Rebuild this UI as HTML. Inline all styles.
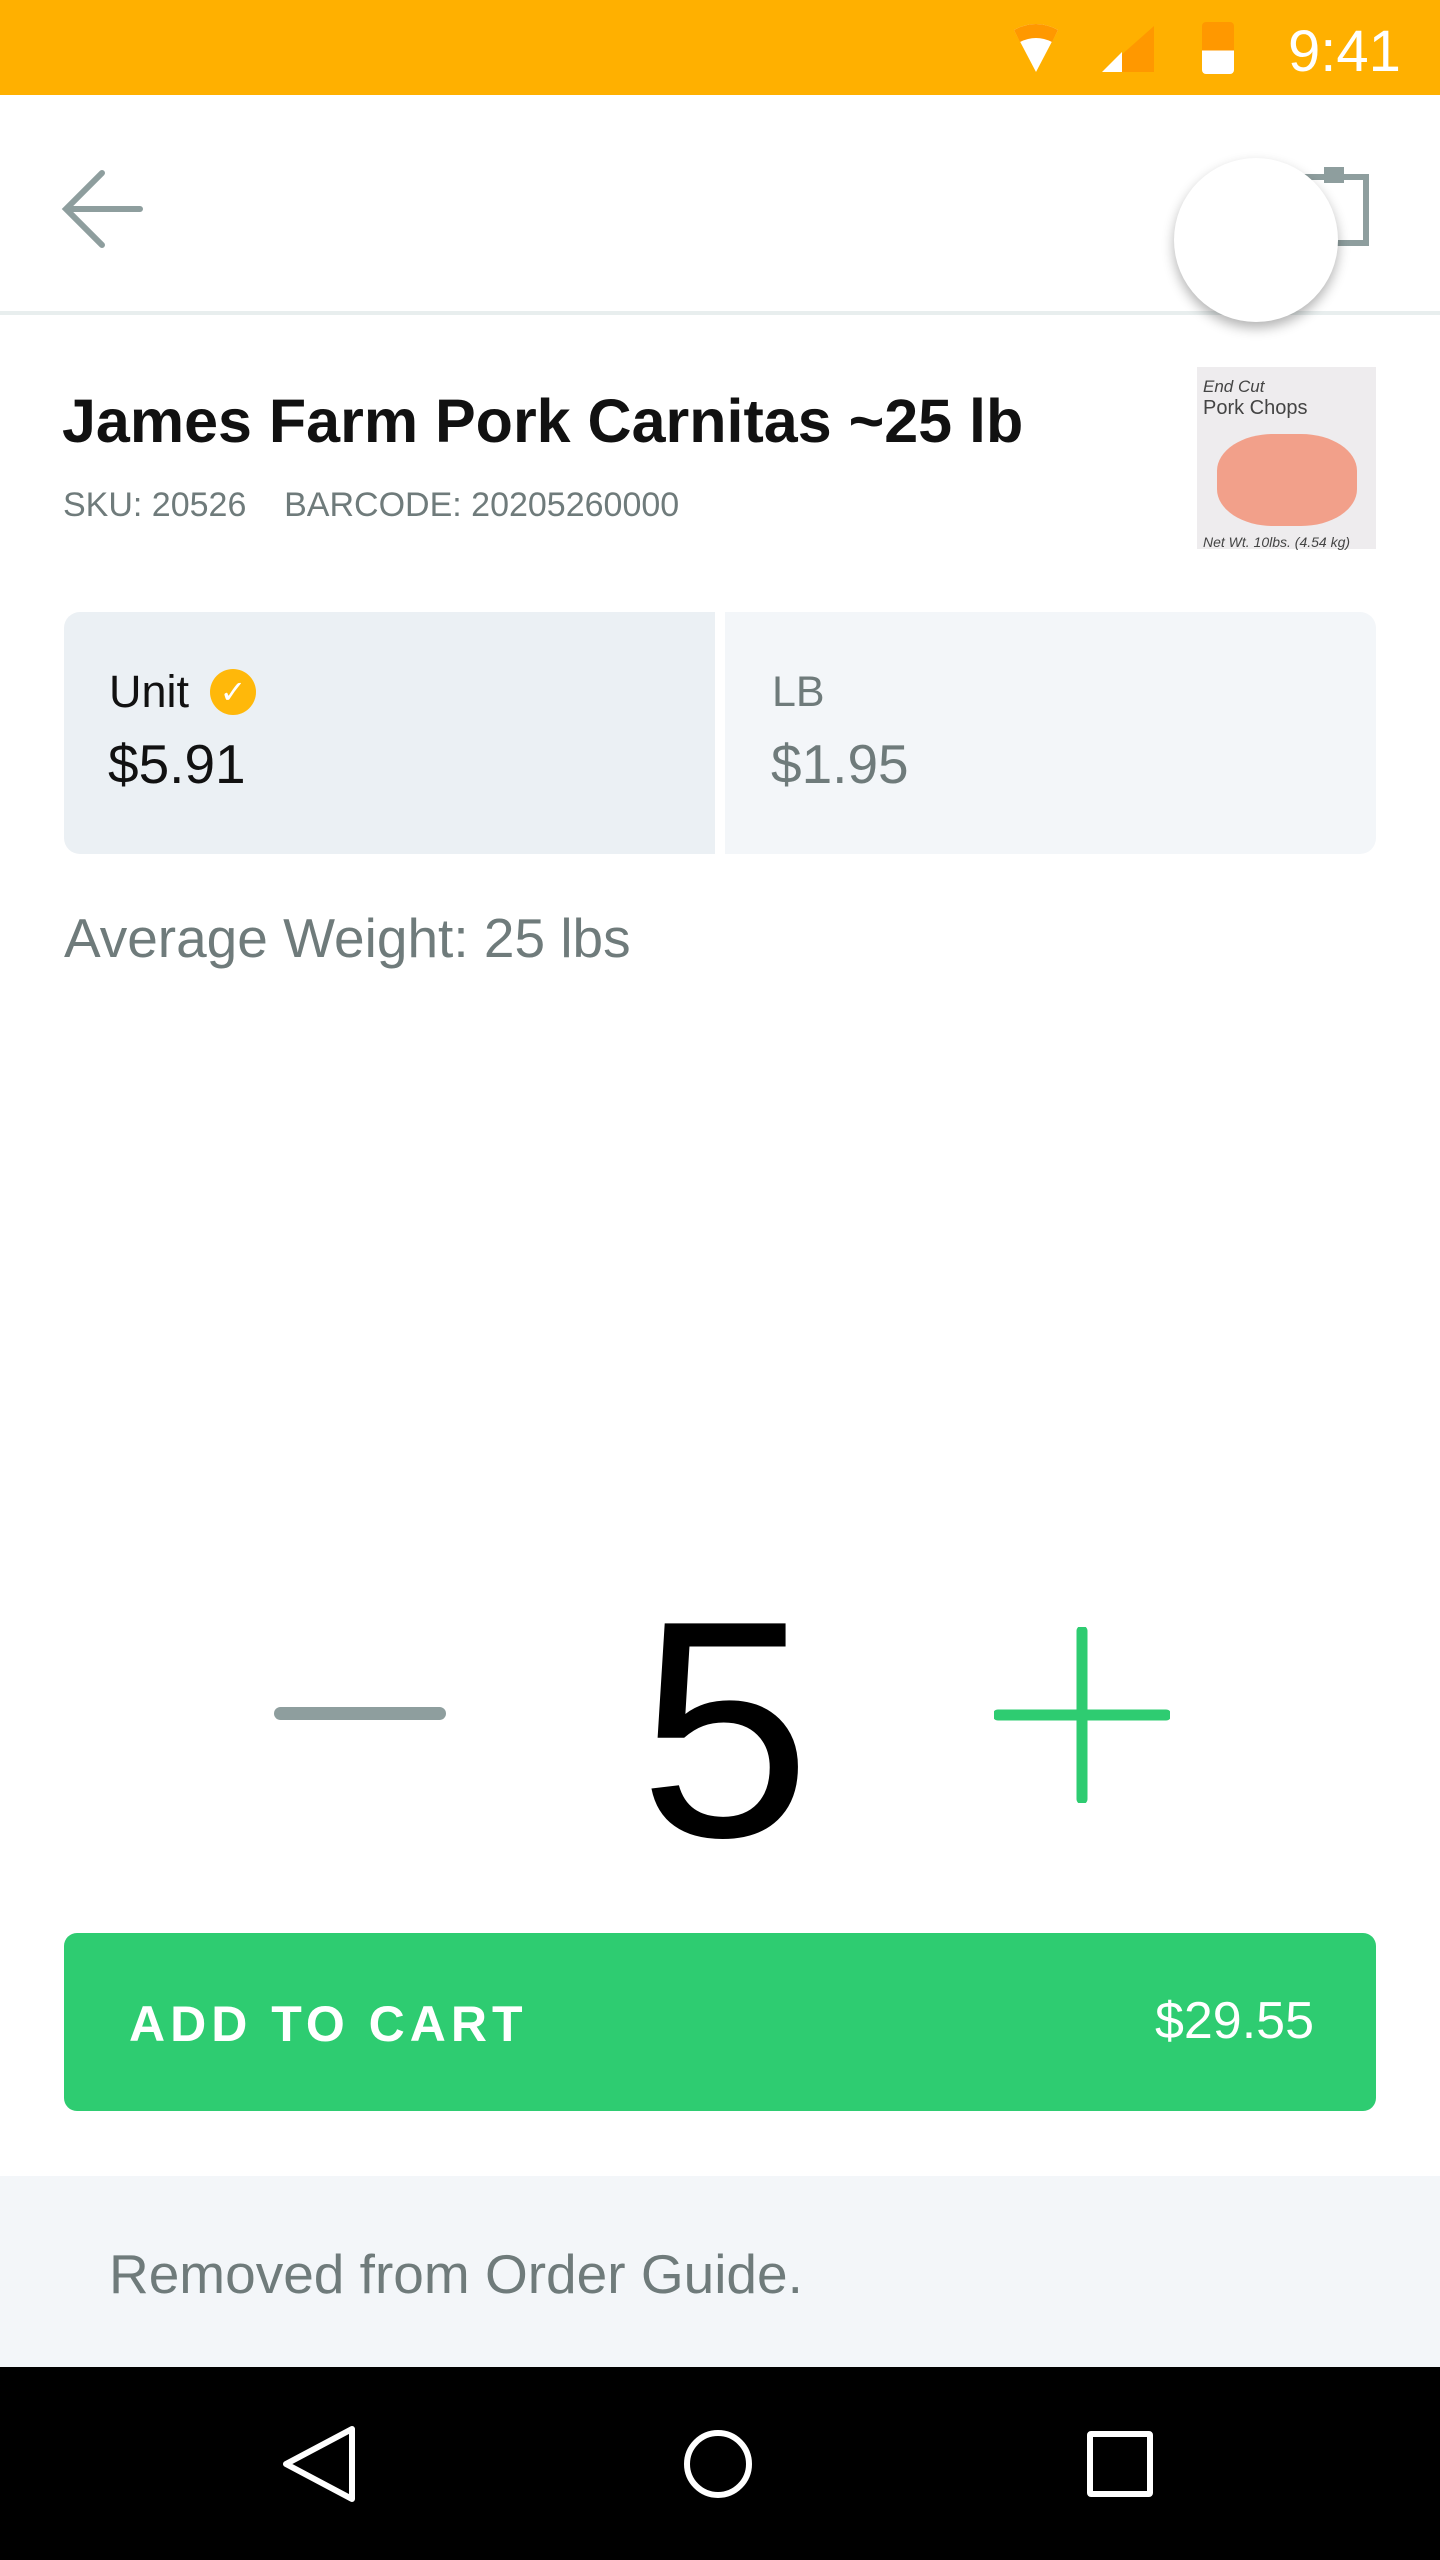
<!DOCTYPE html>
<html><head><meta charset="utf-8"><style>
*{margin:0;padding:0;box-sizing:border-box}
body{width:1440px;height:2560px;position:relative;background:#fff;font-family:"Liberation Sans",sans-serif;overflow:hidden}
.a{position:absolute}
</style></head><body>
<div class="a" style="left:0;top:0;width:1440px;height:95px;background:#ffb000">
 <svg class="a" style="left:1010px;top:22px" width="150" height="56">
  <path d="M4 8 Q26 -4 48 8 L26 50 Z" fill="#fff"/><path d="M4 8 Q26 -4 48 8 L42 20 Q26 12 10 20Z" fill="#ff9800"/>
  <path d="M92 50 L144 50 L144 4 Z" fill="#ff9800"/><path d="M92 50 L112 50 L112 30 Z" fill="#fff"/>
 </svg>
 <div class="a" style="left:1202px;top:22px;width:32px;height:52px;border-radius:4px;background:linear-gradient(#ff9800 0 55%,#fff 55%)"></div>
 <div class="a" style="left:1288px;top:18px;font-size:58px;color:#fff">9:41</div>
</div>
<div class="a" style="left:0;top:95px;width:1440px;height:220px;border-bottom:4px solid #e8eeee">
 <svg class="a" style="left:60px;top:72px" width="90" height="84"><path d="M80 42 H8 M42 6 L6 42 L42 78" stroke="#8e9e9e" stroke-width="6" fill="none" stroke-linecap="round"/></svg>
 <svg class="a" style="left:1296px;top:70px" width="80" height="84"><rect x="10" y="12" width="60" height="66" fill="none" stroke="#8e9e9e" stroke-width="6"/><rect x="28" y="2" width="20" height="16" fill="#8e9e9e"/></svg>
 <div class="a" style="left:1174px;top:63px;width:164px;height:164px;border-radius:50%;background:#fff;box-shadow:0 6px 12px rgba(0,0,0,.3)"></div>
</div>
<div class="a" style="left:62px;top:386px;font-size:61px;font-weight:bold;color:#111;white-space:nowrap">James Farm Pork Carnitas ~25 lb</div>
<div class="a" style="left:63px;top:486px;font-size:34px;color:#6f7b7b;white-space:nowrap">SKU: 20526&nbsp;&nbsp;&nbsp; BARCODE: 20205260000</div>
<div class="a" style="left:1197px;top:367px;width:179px;height:182px;background:#eeecee;font-size:17px;font-style:italic;color:#444;padding:10px 6px">End Cut<br><span style="font-size:20px;font-style:normal">Pork Chops</span>
 <div style="margin:14px 0 0 14px;width:140px;height:92px;border-radius:40%;background:#f2a08a"></div>
 <div style="font-size:14px;margin-top:8px">Net Wt. 10lbs. (4.54 kg)</div></div>
<div class="a" style="left:64px;top:612px;width:651px;height:242px;background:#ebf0f4;border-radius:16px 0 0 16px">
 <div class="a" style="left:45px;top:54px;font-size:45px;color:#111">Unit</div>
 <div class="a" style="left:146px;top:57px;width:46px;height:46px;border-radius:50%;background:#ffb80a;color:#fff;font-size:32px;text-align:center;line-height:46px">✓</div>
 <div class="a" style="left:44px;top:120px;font-size:55px;color:#111">$5.91</div>
</div>
<div class="a" style="left:725px;top:612px;width:651px;height:242px;background:#f3f6f9;border-radius:0 16px 16px 0">
 <div class="a" style="left:47px;top:56px;font-size:43px;color:#6f7b7b">LB</div>
 <div class="a" style="left:46px;top:120px;font-size:55px;color:#6f7b7b">$1.95</div>
</div>
<div class="a" style="left:64px;top:906px;font-size:55px;color:#6f7b7b">Average Weight: 25 lbs</div>
<div class="a" style="left:274px;top:1707px;width:172px;height:13px;border-radius:7px;background:#8e9e9e"></div>
<div class="a" style="left:525px;top:1575px;width:400px;text-align:center;font-size:309px;line-height:309px;color:#000">5</div>
<svg class="a" style="left:994px;top:1627px" width="176" height="176"><path d="M4 88 H172 M88 4 V172" stroke="#2ecc71" stroke-width="11" stroke-linecap="round"/></svg>
<div class="a" style="left:64px;top:1933px;width:1312px;height:178px;border-radius:13px;background:#2ecc71;color:#fff">
 <div class="a" style="left:65px;top:62px;font-size:50px;font-weight:bold;letter-spacing:5px">ADD TO CART</div>
 <div class="a" style="right:62px;top:58px;font-size:52px">$29.55</div>
</div>
<div class="a" style="left:0;top:2176px;width:1440px;height:191px;background:#f3f6f9">
 <div class="a" style="left:109px;top:66px;font-size:55px;color:#6f7b7b">Removed from Order Guide.</div>
</div>
<div class="a" style="left:0;top:2367px;width:1440px;height:193px;background:#000">
 <svg class="a" style="left:280px;top:58px" width="80" height="80"><path d="M72 4 V74 L6 39 Z" fill="none" stroke="#fff" stroke-width="6" stroke-linejoin="round"/></svg>
 <div class="a" style="left:684px;top:63px;width:68px;height:68px;border:6px solid #fff;border-radius:50%"></div>
 <div class="a" style="left:1087px;top:64px;width:66px;height:66px;border:6px solid #fff;border-radius:4px"></div>
</div>
</body></html>
